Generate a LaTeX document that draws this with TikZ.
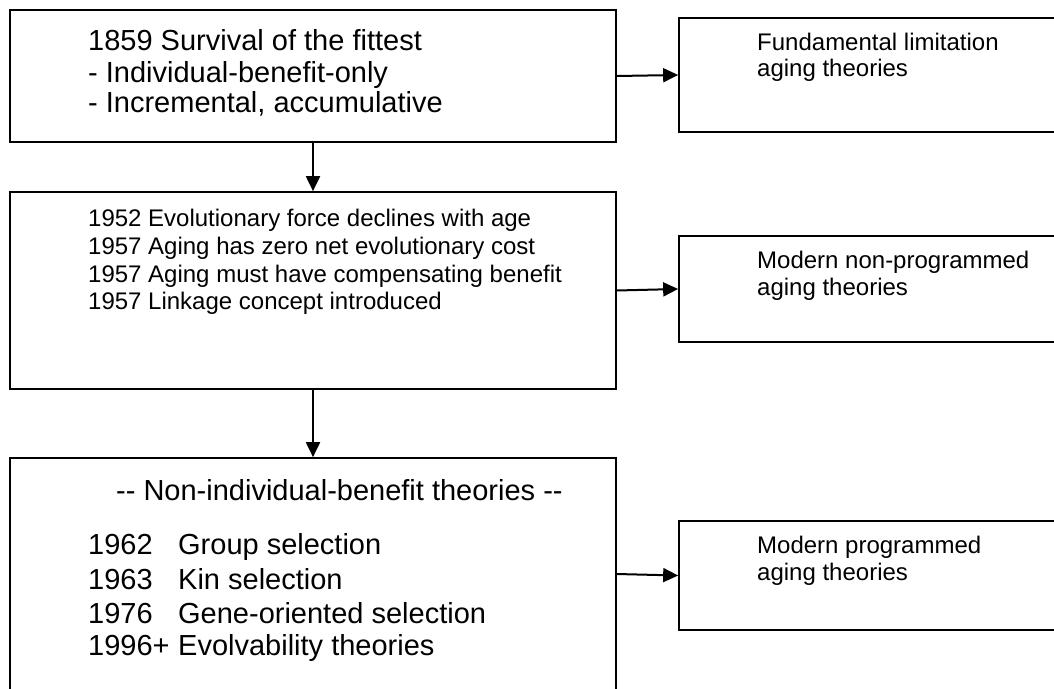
\documentclass[tikz,border=0pt]{standalone}
\usepackage{fontspec}
\setmainfont{Liberation Sans}
\usetikzlibrary{arrows.meta}
\tikzstyle{boxobj} = [rectangle, draw=black, line width=1.7pt, inner sep=0pt]
\tikzstyle{arrow} = [-{Triangle[length=15pt, width=14pt]}, line width=2pt]
\tikzstyle{bigtxt} = [anchor=base west, inner sep=0pt, font=\fontsize{29}{34}\selectfont]
\tikzstyle{smalltxt} = [anchor=base west, inner sep=0pt, font=\fontsize{24}{27}\selectfont]

\begin{document}
\begin{tikzpicture}[x=1pt, y=-1pt]
  \useasboundingbox (0,0) rectangle (1054,688);

  % Boxes
  \node[boxobj, minimum width=606pt, minimum height=132pt] (darwin) at (313, 76) {};
  \node[boxobj, minimum width=606pt, minimum height=197pt] (medawar) at (313, 290.5) {};
  \node[boxobj, minimum width=606pt, minimum height=232pt] (nonind) at (313, 574) {};
  \node[boxobj, minimum width=383pt, minimum height=114pt] (fundlim) at (870.5, 75) {};
  \node[boxobj, minimum width=383pt, minimum height=106pt] (nonprog) at (870.5, 289) {};
  \node[boxobj, minimum width=383pt, minimum height=109pt] (prog) at (870.5, 575.5) {};

  % Texts
  \node[bigtxt] (darwinA) at (88, 50) {1859 Survival of the fittest};
  \node[bigtxt] (darwinB) at (88, 82) {- Individual-benefit-only};
  \node[bigtxt] (darwinC) at (88, 112) {- Incremental, accumulative};

  \node[smalltxt] (medawarA) at (88, 226) {1952 Evolutionary force declines with age};
  \node[smalltxt] (medawarB) at (88, 254) {1957 Aging has zero net evolutionary cost};
  \node[smalltxt] (medawarC) at (88, 282) {1957 Aging must have compensating benefit};
  \node[smalltxt] (medawarD) at (88, 309) {1957 Linkage concept introduced};

  \node[bigtxt] (nonindT) at (116, 500) {-{}- Non-individual-benefit theories -{}-};
  \node[bigtxt] (nonindA) at (88, 554) {\makebox[90pt][l]{1962}Group selection};
  \node[bigtxt] (nonindB) at (88, 589) {\makebox[90pt][l]{1963}Kin selection};
  \node[bigtxt] (nonindC) at (88, 623) {\makebox[90pt][l]{1976}Gene-oriented selection};
  \node[bigtxt] (nonindD) at (88, 655) {\makebox[90pt][l]{1996+}Evolvability theories};

  \node[smalltxt] (fundlimA) at (757, 50) {Fundamental limitation};
  \node[smalltxt] (fundlimB) at (757, 76) {aging theories};
  \node[smalltxt] (nonprogA) at (757, 268) {Modern non-programmed};
  \node[smalltxt] (nonprogB) at (757, 295) {aging theories};
  \node[smalltxt] (progA) at (757, 553) {Modern programmed};
  \node[smalltxt] (progB) at (757, 580) {aging theories};

  % Arrows
  \draw[arrow] (darwin) -- (medawar);
  \draw[arrow] (medawar) -- (nonind);
  \draw[arrow] (darwin.east) -- (fundlim.west);
  \draw[arrow] (medawar.east) -- (nonprog.west);
  \draw[arrow] (nonind.east) -- (prog.west);

\end{tikzpicture}
\end{document}
